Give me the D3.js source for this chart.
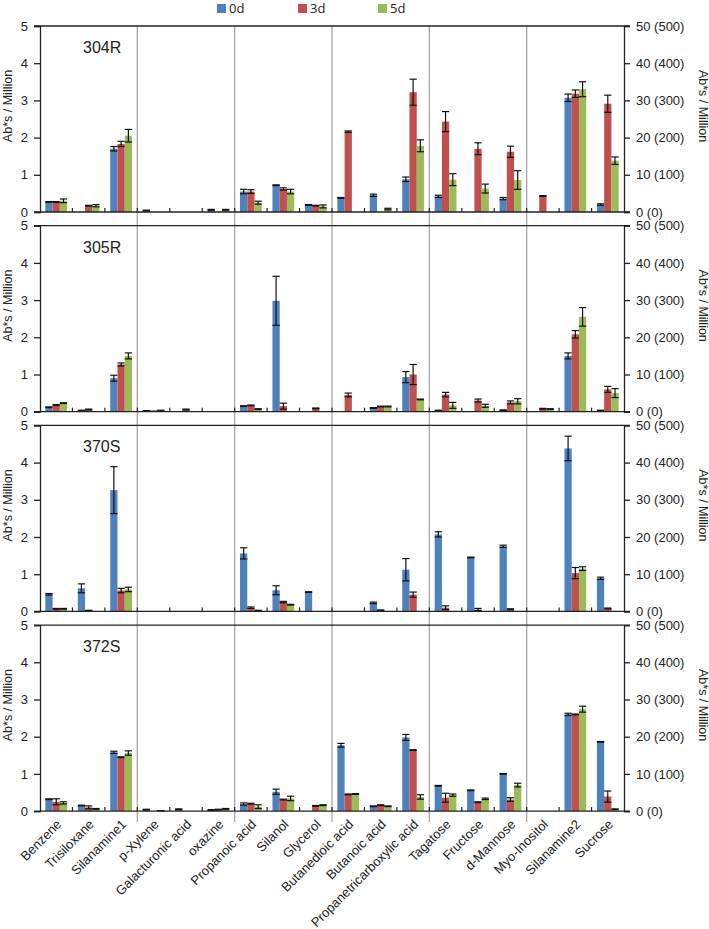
<!DOCTYPE html>
<html><head><meta charset="utf-8">
<script src="https://cdn.jsdelivr.net/npm/d3@7"></script>
<style>body{margin:0;background:#fff;} svg{display:block;font-family:"Liberation Sans",Arial,sans-serif;}</style>
</head><body>
<script>
const categories = ["Benzene","Trisiloxane","Silanamine1","p-Xylene","Galacturonic acid","oxazine","Propanoic acid","Silanol","Glycerol","Butanedioic acid","Butanoic acid","Propanetricarboxylic acid","Tagatose","Fructose","d-Mannose","Myo-Inositol","Silanamine2","Sucrose"];
const seriesNames = ["0d","3d","5d"];
const panelNames = ["304R","305R","370S","372S"];
const leftTicks = [0,1,2,3,4,5];
const rightTickLabels = ["0 (0)","10 (100)","20 (200)","30 (300)","40 (400)","50 (500)"];

// 304R
const v304R_0d = [0.27,0,1.70,0.04,0,0.06,0.55,0.72,0.19,0.38,0.45,0.88,0.42,0,0.36,0,3.07,0.20];
const e304R_0d = [0.01,0,0.06,0.01,0,0.01,0.06,0.01,0.01,0.01,0.03,0.06,0.03,0,0.03,0,0.10,0.02];
const v304R_3d = [0.27,0.17,1.83,0,0,0,0.55,0.62,0.17,2.16,0,3.22,2.43,1.70,1.62,0.43,3.18,2.91];
const e304R_3d = [0.01,0.01,0.07,0,0,0,0.05,0.03,0.01,0.02,0,0.35,0.27,0.16,0.15,0.01,0.10,0.23];
const v304R_5d = [0.30,0.17,2.05,0,0,0.06,0.25,0.55,0.15,0,0.08,1.78,0.87,0.63,0.86,0,3.30,1.38];
const e304R_5d = [0.05,0.03,0.17,0,0,0.01,0.04,0.06,0.04,0,0.02,0.16,0.16,0.12,0.25,0,0.20,0.10];
// 305R
const v305R_0d = [0.12,0.03,0.90,0.02,0,0,0.15,2.98,0,0,0.10,0.93,0.03,0,0.04,0,1.50,0.03];
const e305R_0d = [0.01,0.01,0.08,0.01,0,0,0.01,0.66,0,0,0.01,0.15,0.01,0,0.01,0,0.08,0.01];
const v305R_3d = [0.18,0.06,1.27,0.01,0.06,0,0.17,0.15,0.09,0.45,0.14,1.00,0.46,0.30,0.25,0.08,2.08,0.60];
const e305R_3d = [0.01,0.01,0.04,0,0.01,0,0.01,0.08,0.01,0.05,0.01,0.27,0.06,0.04,0.04,0.01,0.10,0.08];
const v305R_5d = [0.23,0,1.50,0.03,0,0,0.07,0,0,0,0.14,0.33,0.17,0.16,0.28,0.07,2.55,0.50];
const e305R_5d = [0.01,0,0.08,0.01,0,0,0.01,0,0,0,0.01,0.01,0.08,0.04,0.07,0.01,0.25,0.12];
// 370S
const v370S_0d = [0.46,0.62,3.26,0,0,0,1.56,0.57,0.52,0,0.23,1.12,2.07,1.45,1.75,0,4.38,0.89];
const e370S_0d = [0.02,0.12,0.63,0,0,0,0.15,0.12,0.01,0,0.02,0.30,0.07,0.01,0.03,0,0.33,0.03];
const v370S_3d = [0.07,0.02,0.56,0,0,0,0.10,0.25,0,0,0.03,0.45,0.10,0.05,0.06,0,1.03,0.08];
const e370S_3d = [0.01,0.01,0.06,0,0,0,0.02,0.02,0,0,0.01,0.07,0.05,0.03,0.01,0,0.15,0.01];
const v370S_5d = [0.07,0,0.59,0,0,0,0.02,0.18,0,0,0,0,0,0,0,0,1.15,0];
const e370S_5d = [0.01,0,0.06,0,0,0,0.01,0.01,0,0,0,0,0,0,0,0,0.05,0];
// 372S
const v372S_0d = [0.32,0.15,1.58,0.04,0.05,0.03,0.19,0.52,0,1.77,0.13,1.98,0.68,0.56,1.00,0,2.60,1.86];
const e372S_0d = [0.01,0.01,0.03,0.01,0.01,0.01,0.03,0.07,0,0.05,0.01,0.08,0.01,0.01,0.01,0,0.03,0.01];
const v372S_3d = [0.25,0.10,1.45,0,0,0.04,0.20,0.31,0.14,0.45,0.16,1.64,0.36,0.24,0.31,0,2.60,0.39];
const e372S_3d = [0.08,0.04,0.01,0,0,0.01,0.01,0.01,0.01,0.01,0.01,0.01,0.12,0.01,0.05,0,0.01,0.15];
const v372S_5d = [0.22,0.06,1.56,0.01,0,0.06,0.12,0.34,0.16,0.46,0.13,0.38,0.43,0.33,0.70,0,2.74,0.05];
const e372S_5d = [0.03,0.01,0.06,0,0,0.01,0.05,0.06,0.01,0.01,0.01,0.06,0.03,0.02,0.05,0,0.08,0.01];

const panelValues = [[v304R_0d,v304R_3d,v304R_5d],[v305R_0d,v305R_3d,v305R_5d],[v370S_0d,v370S_3d,v370S_5d],[v372S_0d,v372S_3d,v372S_5d]];
const panelErrors = [[e304R_0d,e304R_3d,e304R_5d],[e305R_0d,e305R_3d,e305R_5d],[e370S_0d,e370S_3d,e370S_5d],[e372S_0d,e372S_3d,e372S_5d]];
const colors = ["#4F81BD","#C0504D","#9BBB59"];

const W = 709, H = 929;
const xL = 40, xR = 624;
const panelTop0 = 26, panelStep = 199.7, panelH = 186;
const svg = d3.select("body").append("svg").attr("width",W).attr("height",H);

const x = d3.scaleBand().domain(categories).range([xL,xR]).paddingInner(0.33).paddingOuter(0.165);
const xs = d3.scaleBand().domain(seriesNames).range([0,x.bandwidth()]);
const step = x.step();

// legend
const lg = svg.append("g").attr("font-family","'Open Sans',sans-serif").attr("font-size",13);
const legendX = [217,298,378];
seriesNames.forEach((s,i)=>{
  lg.append("rect").attr("x",legendX[i]).attr("y",4).attr("width",9).attr("height",9).attr("fill",colors[i]);
  lg.append("text").attr("x",legendX[i]+12).attr("y",8.5).attr("dy","0.35em").attr("fill","#222").text(s);
});

// separators spanning all panels
const sepBottom = panelTop0 + 3*panelStep + panelH + 11;
[3,6,9,12,15].forEach(k=>{
  const sx = xL + k*step;
  svg.append("line").attr("x1",sx).attr("x2",sx).attr("y1",panelTop0).attr("y2",sepBottom)
    .attr("stroke","#a6a6a6").attr("stroke-width",1.3);
});

panelNames.forEach((pn,pi)=>{
  const top = panelTop0 + pi*panelStep;
  const y = d3.scaleLinear().domain([0,5]).range([top+panelH, top]);
  const yR = d3.scaleLinear().domain([0,50]).range([top+panelH, top]);
  const g = svg.append("g");

  // bars
  seriesNames.forEach((s,si)=>{
    const vals = panelValues[pi][si], errs = panelErrors[pi][si];
    categories.forEach((c,ci)=>{
      const v = vals[ci];
      if (v <= 0) return;
      const bx = x(c) + xs(s), bw = xs.bandwidth();
      g.append("rect").attr("x",bx).attr("y",y(v)).attr("width",bw).attr("height",y(0)-y(v)).attr("fill",colors[si]);
      const e = errs[ci];
      const cx = bx + bw/2;
      const eg = g.append("g").attr("stroke","#111").attr("stroke-width",1.2);
      eg.append("line").attr("x1",cx).attr("x2",cx).attr("y1",y(v+e)).attr("y2",y(Math.max(0,v-e)));
      eg.append("line").attr("x1",bx).attr("x2",bx+bw).attr("y1",y(v+e)).attr("y2",y(v+e));
      eg.append("line").attr("x1",bx).attr("x2",bx+bw).attr("y1",y(Math.max(0,v-e))).attr("y2",y(Math.max(0,v-e)));
    });
  });

  // frame
  const axisColor = "#222";
  g.append("line").attr("x1",xL-6).attr("x2",xR+6).attr("y1",top).attr("y2",top).attr("stroke",axisColor).attr("stroke-width",1.3);
  g.append("line").attr("x1",xL-6).attr("x2",xR+6).attr("y1",y(0)).attr("y2",y(0)).attr("stroke",axisColor).attr("stroke-width",1.3);

  // left axis
  const la = g.append("g").attr("transform",`translate(${xL},0)`)
    .call(d3.axisLeft(y).tickValues(leftTicks).tickSize(6).tickPadding(6).tickFormat(d3.format("d")));
  la.selectAll("path,line").attr("stroke",axisColor).attr("stroke-width",1.3);
  la.selectAll("text").attr("font-size",13).attr("fill","#222").attr("font-family","'Liberation Sans',Arial,sans-serif");

  // right axis
  const ra = g.append("g").attr("transform",`translate(${xR},0)`)
    .call(d3.axisRight(yR).tickValues([0,10,20,30,40,50]).tickSize(6).tickPadding(6).tickFormat((d,i)=>rightTickLabels[i]));
  ra.selectAll("path,line").attr("stroke",axisColor).attr("stroke-width",1.3);
  ra.selectAll("text").attr("font-size",13).attr("fill","#222").attr("font-family","'Liberation Sans',Arial,sans-serif");

  // bottom ticks at category boundaries
  d3.range(1,18).forEach(k=>{
    const tx = xL + k*step;
    g.append("line").attr("x1",tx).attr("x2",tx).attr("y1",y(0)).attr("y2",y(0)-4).attr("stroke",axisColor).attr("stroke-width",1.2);
  });

  // panel label
  g.append("text").attr("x",83).attr("y",top+27).attr("font-size",16).attr("fill","#222").text(pn);

  // axis titles
  const tcy = top + panelH/2 - 13;
  g.append("text").attr("transform",`translate(12,${tcy}) rotate(-90)`).attr("text-anchor","middle")
    .attr("font-size",12.5).attr("fill","#222").text("Ab*s / Million");
  g.append("text").attr("transform",`translate(699,${tcy}) rotate(90)`).attr("text-anchor","middle")
    .attr("font-size",12.5).attr("fill","#222").text("Ab*s / Million");
});

// x labels
const bottomZero = panelTop0 + 3*panelStep + panelH;
const xl = svg.append("g");
categories.forEach(c=>{
  const cx = x(c) + x.bandwidth()/2;
  xl.append("text").attr("transform",`translate(${cx+6},${bottomZero+14}) rotate(-45)`)
    .attr("text-anchor","end").attr("font-size",13).attr("fill","#222").text(c);
});
</script>
</body></html>
